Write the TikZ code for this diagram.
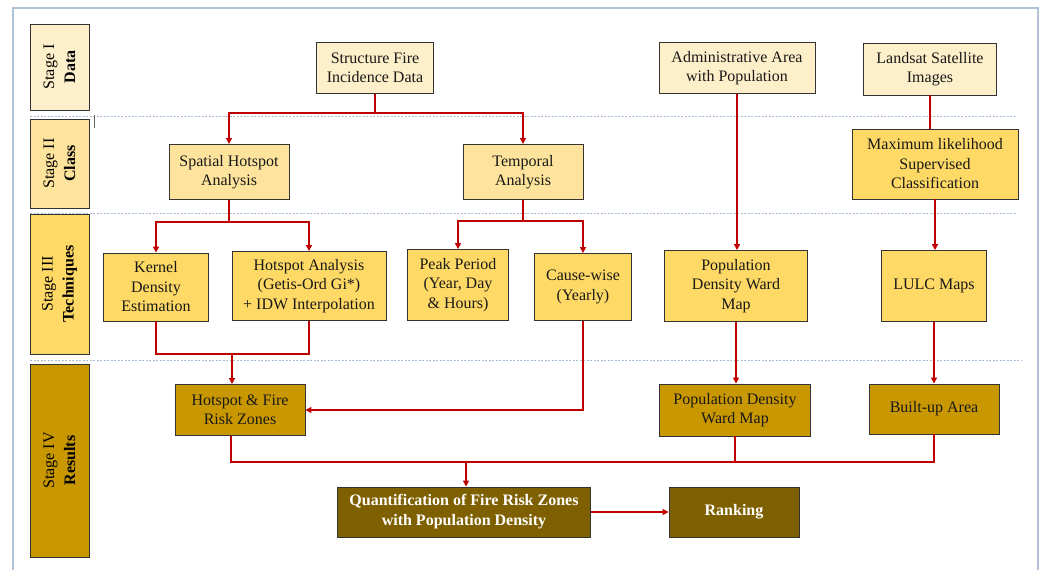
\documentclass[tikz,border=0pt]{standalone}
\usepackage{fontspec}
\setmainfont{Liberation Serif}
\usetikzlibrary{arrows.meta}
\definecolor{cream}{HTML}{FDEFC9}
\definecolor{ylight}{HTML}{FDE39B}
\definecolor{ymid}{HTML}{FFD966}
\definecolor{gold}{HTML}{C99700}
\definecolor{brownd}{HTML}{7F6000}
\definecolor{redl}{HTML}{C00000}
\definecolor{framec}{HTML}{AFC2D8}
\definecolor{dashc}{HTML}{A9BCD6}
\tikzset{
  box/.style={draw=black!80, line width=0.9pt, align=center, inner sep=1pt, font=\fontsize{16}{19.5}\selectfont, text=black!90},
  stagebox/.style={draw=black!80, line width=0.9pt, minimum width=59pt, minimum height=#1, align=center},
  stagetxt/.style={rotate=90, align=center, font=\fontsize{16}{21}\selectfont},
  lnk/.style={draw=redl, line width=1.8pt},
  arr/.style={lnk, -{Triangle[width=6pt,length=6pt]}},
  sep/.style={draw=dashc, line width=0.9pt, dash pattern=on 2pt off 1.5pt},
}
\begin{document}
\begin{tikzpicture}[x=1pt,y=-1pt]
\useasboundingbox (0,0) rectangle (1047,570);
% frame
\draw[framec, line width=1.2pt] (13,572) -- (13,8) -- (1038,8) -- (1038,572);
% separators
\draw[sep] (30,116) -- (1017,116);
\draw[sep] (30,213) -- (1017,213);
\draw[sep] (30,360) -- (1022,360);
\draw[black!60, line width=1pt] (94,115) -- (94,128);
% stage labels
\node[stagebox=86pt, fill=cream] (s1) at (59.5,67) {};
\node[stagetxt] at (s1.center) {Stage I\\\textbf{Data}};
\node[stagebox=89pt, fill=ylight] (s2) at (59.5,163.5) {};
\node[stagetxt] at (s2.center) {Stage II\\\textbf{Class}};
\node[stagebox=140pt, fill=ymid] (s3) at (59.5,284) {};
\node[stagetxt] at (s3.center) {Stage III\\\textbf{Techniques}};
\node[stagebox=193pt, fill=gold] (s4) at (59.5,460.5) {};
\node[stagetxt] at (s4.center) {Stage IV\\\textbf{Results}};
% stage I nodes
\node[box, fill=cream, minimum width=117pt, minimum height=51pt] (sfid) at (375,68) {Structure Fire\\Incidence Data};
\node[box, fill=cream, minimum width=156pt, minimum height=51pt] (admin) at (737,68) {Administrative Area\\with Population};
\node[box, fill=cream, minimum width=133pt, minimum height=52pt] (landsat) at (930,69) {Landsat Satellite\\Images};
% stage II
\node[box, fill=ylight, minimum width=120pt, minimum height=55pt] (spatial) at (229,172) {Spatial Hotspot\\Analysis};
\node[box, fill=ylight, minimum width=120pt, minimum height=55pt] (temporal) at (523,172) {Temporal\\Analysis};
\node[box, fill=ymid, minimum width=166pt, minimum height=70pt] (maxlik) at (935,164) {Maximum likelihood\\Supervised\\Classification};
% stage III
\node[box, fill=ymid, minimum width=105pt, minimum height=68pt] (kernel) at (156,287) {Kernel\\Density\\Estimation};
\node[box, fill=ymid, minimum width=154pt, minimum height=69pt] (hotan) at (309,286) {Hotspot Analysis\\(Getis-Ord Gi*)\\+ IDW Interpolation};
\node[box, fill=ymid, minimum width=101pt, minimum height=71pt] (peak) at (458,285) {Peak Period\\(Year, Day\\\& Hours)};
\node[box, fill=ymid, minimum width=97pt, minimum height=67pt] (cause) at (583,287) {Cause-wise\\(Yearly)};
\node[box, fill=ymid, minimum width=143pt, minimum height=71pt] (pop3) at (736,286) {Population\\Density Ward\\Map};
\node[box, fill=ymid, minimum width=105pt, minimum height=71pt] (lulc) at (934,286) {LULC Maps};
% stage IV
\node[box, fill=gold, minimum width=130pt, minimum height=51pt] (hfrz) at (240,410) {Hotspot \& Fire\\Risk Zones};
\node[box, fill=gold, minimum width=151pt, minimum height=52pt] (pop4) at (735,410) {Population Density\\Ward Map};
\node[box, fill=gold, minimum width=130pt, minimum height=50pt] (built) at (934,409) {Built-up Area};
\node[box, fill=brownd, text=white, font=\fontsize{16}{20}\selectfont\bfseries, minimum width=253pt, minimum height=50pt] (quant) at (464,512) {Quantification of Fire Risk Zones\\with Population Density};
\node[box, fill=brownd, text=white, font=\fontsize{16}{20}\selectfont\bfseries, minimum width=130pt, minimum height=50pt] (rank) at (734,512) {Ranking};
% connectors
\coordinate (j1) at (375,113);
\draw[lnk] (sfid.south) -- (j1);
\draw[arr] (j1) -| (spatial.north);
\draw[arr] (j1) -| (temporal.north);
\coordinate (j2) at (229,222);
\draw[lnk] (spatial.south) -- (j2);
\draw[arr] (j2) -| (kernel.north);
\draw[arr] (j2) -| (hotan.north);
\coordinate (j3) at (523,221);
\draw[lnk] (temporal.south) -- (j3);
\draw[arr] (j3) -| (peak.north);
\draw[arr] (j3) -| (cause.north);
\coordinate (j4) at (232,354);
\draw[lnk] (kernel.south) |- (j4);
\draw[lnk] (hotan.south) |- (j4);
\draw[arr] (j4) -- (j4 |- hfrz.north);
\draw[arr] (cause.south) |- (hfrz.east);
\draw[arr] (admin.south) -- (pop3.north -| admin.south);
\draw[lnk] (landsat.south) -- (landsat.south |- maxlik.north);
\draw[arr] (maxlik.south) -- (maxlik.south |- lulc.north);
\draw[arr] (pop3.south) -- (pop3.south |- pop4.north);
\draw[arr] (lulc.south) -- (lulc.south |- built.north);
\coordinate (j5) at (231,462);
\coordinate (j6) at (466,462);
\draw[lnk] (j5 |- hfrz.south) -- (j5) -- (built.south |- j5) -- (built.south);
\draw[lnk] (pop4.south) -- (pop4.south |- j5);
\draw[arr] (j6) -- (j6 |- quant.north);
\draw[arr] (quant.east) -- (rank.west);
\end{tikzpicture}
\end{document}
